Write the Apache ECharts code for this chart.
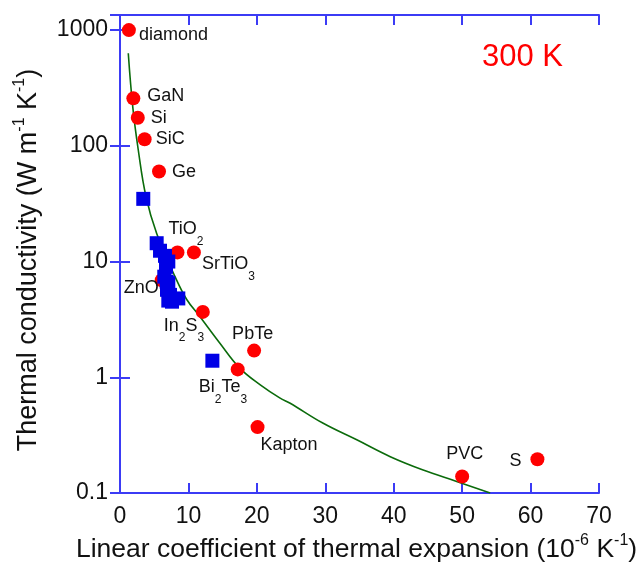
<!DOCTYPE html>
<html>
<head>
<meta charset="utf-8">
<title>Thermal conductivity vs thermal expansion</title>
<script src="https://cdn.jsdelivr.net/npm/echarts@6/dist/echarts.min.js"></script>
<style>
  html, body { margin: 0; padding: 0; background: #fff; }
  #chart { width: 641px; height: 565px; }
</style>
</head>
<body>
<div id="chart"></div>
<script>
// materials shown as red circles (CTE in 1e-6/K, kappa in W/m/K)
const matNames = ['diamond', 'GaN', 'Si', 'SiC', 'Ge', 'TiO{sub|2}', 'SrTiO{sub|3}', 'ZnO',
  'In{sub|2}S{sub|3}', 'PbTe', 'Bi{sub|2}Te{sub|3}', 'Kapton', 'PVC', 'S']
const matCte = [1.3, 1.95, 2.6, 3.6, 5.7, 8.4, 10.8, 6.1, 12.1, 19.6, 17.2, 20.1, 50.0, 61.0]
const matKappa = [1000, 257, 175, 114, 60, 12.0, 12.0, 6.9, 3.67, 1.70, 1.17, 0.371, 0.139, 0.196]

// blue squares
const sqCte = [3.4, 5.36, 5.85, 6.58, 7.06, 6.72, 6.47, 6.82, 7.06, 6.87, 7.31, 8.52, 7.06, 7.6, 13.5]
const sqKappa = [34.8, 14.4, 12.4, 11.2, 10.0, 9.0, 7.4, 6.7, 6.5, 5.7, 5.15, 4.8, 4.6, 4.5, 1.39]

// green guide curve
const fitCte = [1.21, 1.86, 2.67, 3.80, 5.36, 8.04, 9.75, 11.69, 14.6, 17.5, 20.5, 23.4, 24.8, 29.7, 34.6, 39.5, 44.3, 49.2, 54.1]
const fitKappa = [630, 218, 92, 36.3, 17.5, 7.4, 4.7, 3.34, 1.97, 1.2, 0.86, 0.66, 0.60, 0.40, 0.288, 0.206, 0.158, 0.126, 0.1]

const xTicks = [0, 70, 10]
const yRange = [0.1, 1350]

// label placement for each material (offset from point centre)
const labelPlace = {
  'diamond': [10, 5], 'GaN': [14, -2], 'Si': [13, 0], 'SiC': [11, 0], 'Ge': [13, 1],
  'TiO{sub|2}': [-9, -23], 'SrTiO{sub|3}': [8, 12], 'ZnO': [-3, 8, 'right'],
  'In{sub|2}S{sub|3}': [-39, 14], 'PbTe': [-22, -17], 'Bi{sub|2}Te{sub|3}': [-39, 18],
  'Kapton': [3, 18], 'PVC': [-16, -22], 'S': [-28, 2]
}

const axisBlue = '#3b3bf5'
const font = 'Liberation Sans, Arial, sans-serif'

const chart = echarts.init(document.getElementById('chart'), null, { renderer: 'canvas' })

const redData = matNames.map((n, i) => {
  const p = labelPlace[n]
  return {
    value: [matCte[i], matKappa[i]],
    label: {
      show: true,
      formatter: n,
      position: 'inside',
      align: p[2] || 'left',
      verticalAlign: 'middle',
      offset: [p[0], p[1]]
    }
  }
})

const commonAxisLine = { show: true, lineStyle: { color: axisBlue, width: 2 } }
const commonTick = { show: true, inside: true, length: 10, lineStyle: { color: axisBlue, width: 2 } }

chart.setOption({
  backgroundColor: '#fff',
  animation: false,
  title: {
    text: '300 K',
    left: 482,
    top: 42,
    padding: 0,
    textStyle: { color: '#ff0000', fontSize: 31, fontWeight: 'normal', fontFamily: font }
  },
  grid: { left: 120, top: 15, right: 42, bottom: 72, containLabel: false, outerBoundsMode: 'none' },
  xAxis: [{
    type: 'value',
    min: xTicks[0],
    max: xTicks[1],
    interval: xTicks[2],
    position: 'bottom',
    axisLine: commonAxisLine,
    axisTick: commonTick,
    splitLine: { show: false },
    axisLabel: { color: '#111', fontSize: 23, fontFamily: font, margin: 12 },
    name: 'Linear coefficient of thermal expansion (10{sup|-6} K{sup|-1})',
    nameLocation: 'middle',
    nameGap: 32,
    nameTextStyle: {
      color: '#111', fontSize: 26.5, fontFamily: font, lineHeight: 34,
      padding: [0, 6, 0, 0],
      rich: { sup: { fontSize: 16, lineHeight: 15, verticalAlign: 'top', fontFamily: font, color: '#111' } }
    }
  }, {
    type: 'value',
    min: xTicks[0],
    max: xTicks[1],
    interval: xTicks[2],
    position: 'top',
    axisLine: commonAxisLine,
    axisTick: commonTick,
    splitLine: { show: false },
    axisLabel: { show: false }
  }],
  yAxis: [{
    type: 'log',
    logBase: 10,
    min: yRange[0],
    max: yRange[1],
    position: 'left',
    axisLine: commonAxisLine,
    axisTick: commonTick,
    minorTick: { show: false },
    splitLine: { show: false },
    axisLabel: {
      color: '#111', fontSize: 23, fontFamily: font, margin: 12, showMaxLabel: false,
      formatter: v => (v > 1500 ? '' : String(+v.toPrecision(3)))
    },
    name: 'Thermal conductivity (W m{sup|-1} K{sup|-1})',
    nameLocation: 'middle',
    nameGap: 65,
    nameTextStyle: {
      color: '#111', fontSize: 27, fontFamily: font, lineHeight: 34,
      padding: [0, 12, 0, 0],
      rich: { sup: { fontSize: 16, lineHeight: 15, verticalAlign: 'top', fontFamily: font, color: '#111' } }
    }
  }, {
    type: 'log',
    logBase: 10,
    min: yRange[0],
    max: yRange[1],
    position: 'right',
    axisLine: commonAxisLine,
    axisTick: commonTick,
    splitLine: { show: false },
    axisLabel: { show: false }
  }],
  series: [{
    type: 'line',
    z: 1,
    data: fitCte.map((x, i) => [x, fitKappa[i]]),
    smooth: 0.4,
    symbol: 'none',
    lineStyle: { color: '#0b6b0b', width: 1.6 }
  }, {
    type: 'scatter',
    z: 3,
    symbol: 'circle',
    symbolSize: 14,
    itemStyle: { color: '#ff0000', opacity: 1 },
    label: {
      color: '#111', fontSize: 18, fontFamily: font, lineHeight: 36,
      rich: { sub: { fontSize: 12, lineHeight: 12, verticalAlign: 'bottom', fontFamily: font, color: '#111' } }
    },
    data: redData
  }, {
    type: 'scatter',
    z: 4,
    symbol: 'rect',
    symbolSize: 14,
    itemStyle: { color: '#0000e6', opacity: 1 },
    data: sqCte.map((x, i) => [x, sqKappa[i]])
  }]
})
</script>
</body>
</html>
